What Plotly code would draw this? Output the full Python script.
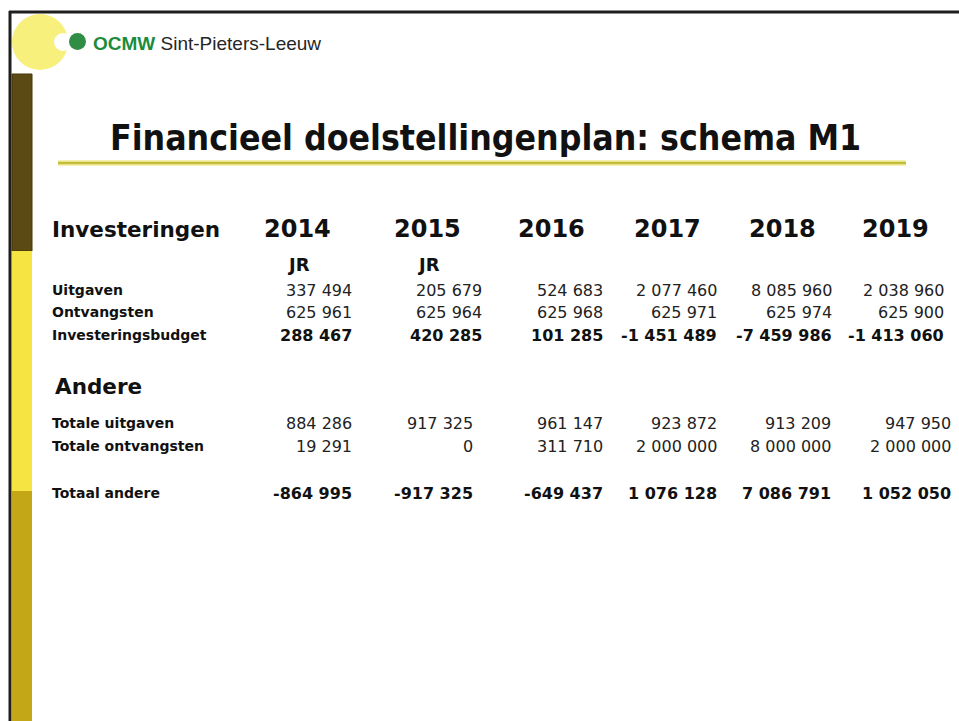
import plotly.graph_objects as go

# ---- data ----
years = ["2014", "2015", "2016", "2017", "2018", "2019"]
year_notes = ["JR", "JR", "", "", "", ""]

inv_title = "Investeringen"
inv_labels = ["Uitgaven", "Ontvangsten", "Investeringsbudget"]
inv_uitgaven = [337494, 205679, 524683, 2077460, 8085960, 2038960]
inv_ontvangsten = [625961, 625964, 625968, 625971, 625974, 625900]
inv_budget = [288467, 420285, 101285, -1451489, -7459986, -1413060]

and_title = "Andere"
and_labels = ["Totale uitgaven", "Totale ontvangsten", "Totaal andere"]
and_uitgaven = [884286, 917325, 961147, 923872, 913209, 947950]
and_ontvangsten = [19291, 0, 311710, 2000000, 8000000, 2000000]
and_totaal = [-864995, -917325, -649437, 1076128, 7086791, 1052050]

title_text = "Financieel doelstellingenplan: schema M1"

# ---- layout constants ----
W, H = 959, 721
FONT = "DejaVu Sans, Verdana, sans-serif"
year_cx = [297, 427, 551, 667, 782, 895]
inv_right = [354, 484, 605, 719, 834, 946]
and_right = [354, 475, 605, 719, 833, 953]
inv_rows_y = [290, 312, 335]
and_rows_y = [423, 446, 493]
bold_rows = [False, False, True]


def fmt(v):
    return f"{v:,}".replace(",", " ")


fig = go.Figure()
fig.add_trace(go.Scatter(x=[0, W], y=[0, H], mode="markers",
                         marker=dict(opacity=0), hoverinfo="skip", showlegend=False))

shapes = []
# left decorative bar
shapes.append(dict(type="rect", x0=12, x1=32, y0=74, y1=251, fillcolor="#5c4a14",
                   line=dict(color="#453608", width=1)))
shapes.append(dict(type="rect", x0=12, x1=32, y0=251, y1=491, fillcolor="#f6e443", line=dict(width=0)))
shapes.append(dict(type="rect", x0=12, x1=32, y0=491, y1=H, fillcolor="#c3a716", line=dict(width=0)))
# logo circles
shapes.append(dict(type="circle", x0=12, x1=68, y0=14, y1=70, fillcolor="#f7f07c", line=dict(width=0)))
shapes.append(dict(type="circle", x0=54, x1=72, y0=33, y1=51, fillcolor="white", line=dict(width=0)))
shapes.append(dict(type="circle", x0=69, x1=86, y0=33, y1=50, fillcolor="#2f8d45", line=dict(width=0)))
# borders
shapes.append(dict(type="line", x0=9, x1=W, y0=12, y1=12, line=dict(color="#1e1e1e", width=3)))
shapes.append(dict(type="line", x0=10, x1=10, y0=11, y1=H, line=dict(color="#1e1e1e", width=3)))
# title underline
shapes.append(dict(type="line", x0=58, x1=906, y0=163, y1=163, line=dict(color="#f3f0b0", width=6)))
shapes.append(dict(type="line", x0=58, x1=906, y0=163, y1=163, line=dict(color="#c4bd38", width=2.5)))

ann = []


def txt(x, y, s, size, bold=False, anchor="left", color="#111111", family=FONT):
    ann.append(dict(x=x, y=y, xref="x", yref="y", text=(f"<b>{s}</b>" if bold else s),
                    showarrow=False, xanchor=anchor, yanchor="middle",
                    font=dict(family=family, size=size, color=color)))


# logo text
txt(91, 43, "<b><span style='color:#1b8c3c'>OCMW</span></b> Sint-Pieters-Leeuw", 19,
    color="#262626", family="Liberation Sans, Arial, sans-serif")
# title
txt(485, 137, title_text, 35.3, bold=True, anchor="center",
    family="DejaVu Sans Condensed, DejaVu Sans, sans-serif")

# investeringen header
txt(50, 229, inv_title, 21.5, bold=True)
for cx, yr in zip(year_cx, years):
    txt(cx, 229, yr, 24, bold=True, anchor="center")
for cx, note in zip(year_cx, year_notes):
    if note:
        txt(cx - 12, 264, note, 18, bold=True)

inv_rows = [inv_uitgaven, inv_ontvangsten, inv_budget]
for lab, y, row, b in zip(inv_labels, inv_rows_y, inv_rows, bold_rows):
    txt(50, y, lab, 14, bold=True)
    for xr, v in zip(inv_right, row):
        txt(xr, y, fmt(v), 16, bold=b, anchor="right", color="#111111" if b else "#222222")

# andere
txt(53, 386, and_title, 21.5, bold=True)
and_rows = [and_uitgaven, and_ontvangsten, and_totaal]
for lab, y, row, b in zip(and_labels, and_rows_y, and_rows, bold_rows):
    txt(50, y, lab, 14, bold=True)
    for xr, v in zip(and_right, row):
        txt(xr, y, fmt(v), 16, bold=b, anchor="right", color="#111111" if b else "#222222")

fig.update_layout(
    width=W, height=H, margin=dict(l=0, r=0, t=0, b=0),
    paper_bgcolor="white", plot_bgcolor="white",
    xaxis=dict(range=[0, W], visible=False, fixedrange=True),
    yaxis=dict(range=[H, 0], visible=False, fixedrange=True),
    shapes=shapes, annotations=ann, showlegend=False, hovermode=False,
)
fig.write_html("out.html", config={"displayModeBar": False, "staticPlot": True},
               post_script="document.body.style.margin='0';document.body.style.overflow='hidden';")
